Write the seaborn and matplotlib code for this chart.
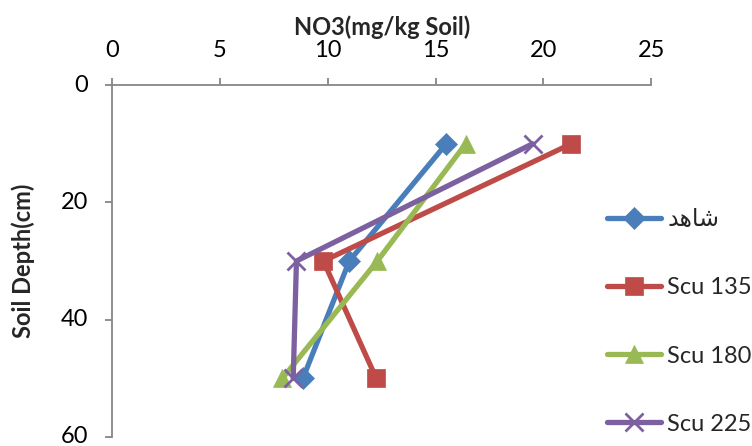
import matplotlib
matplotlib.use("Agg")
import matplotlib.pyplot as plt
import matplotlib.transforms as mtransforms
import seaborn as sns
import pandas as pd

# Soil depth (cm) of each sampling layer
depths = [10, 30, 50]

# Nitrate concentration per treatment (mg/kg soil)
series_names = ["شاهد", "Scu 135", "Scu 180", "Scu 225"]
control = [15.5, 11.0, 8.85]
scu_135 = [21.3, 9.8, 12.25]
scu_180 = [16.4, 12.3, 7.9]
scu_225 = [19.5, 8.55, 8.4]

x_ticks = [0, 5, 10, 15, 20, 25]
y_ticks = [0, 20, 40, 60]

colors = ["#4A7EBB", "#BE4B48", "#98B954", "#7D60A0"]
markers = ["D", "s", "^", "x"]
marker_sizes = [11, 13.5, 13.5, 13]


def shape_arabic(word):
    """Join Arabic letters into presentation forms, in visual order."""
    forms = {  # isolated, final, initial, medial
        "ش": ("\uFEB5", "\uFEB6", "\uFEB7", "\uFEB8"),
        "ا": ("\uFE8D", "\uFE8E", None, None),
        "ه": ("\uFEE9", "\uFEEA", "\uFEEB", "\uFEEC"),
        "د": ("\uFEA9", "\uFEAA", None, None),
    }
    if not any(c in forms for c in word):
        return word
    out = []
    n = len(word)
    for i, c in enumerate(word):
        f = forms[c]
        prev_joins = i > 0 and forms[word[i - 1]][2] is not None
        next_joins = i < n - 1 and f[2] is not None
        if prev_joins and next_joins:
            out.append(f[3])
        elif prev_joins:
            out.append(f[1])
        elif next_joins:
            out.append(f[2])
        else:
            out.append(f[0])
    return "".join(reversed(out))


frames = []
for name, vals in zip(series_names, [control, scu_135, scu_180, scu_225]):
    frames.append(pd.DataFrame({"series": name, "no3": vals, "depth": depths}))
df = pd.concat(frames, ignore_index=True)

sns.set_theme(style="white")
plt.rcParams["font.family"] = ["Lato", "DejaVu Sans"]

fig = plt.figure(figsize=(7.52, 4.46), dpi=100)
ax = fig.add_axes([0.149, 0.0202, 0.717, 0.789])

for name, color, mk, ms in zip(series_names, colors, markers, marker_sizes):
    sub = df[df["series"] == name]
    sns.lineplot(
        data=sub, x="no3", y="depth", orient="y", ax=ax,
        color=color, linewidth=3.8, marker=mk, markersize=ms,
        markeredgecolor=color, markeredgewidth=2.0 if mk == "x" else 0.5,
        label=shape_arabic(name),
    )

ax.set_xlim(0, 25)
ax.set_ylim(60, 0)
ax.set_xticks(x_ticks)
ax.set_yticks(y_ticks)
ax.xaxis.tick_top()
ax.xaxis.set_label_position("top")

for side in ["right", "bottom"]:
    ax.spines[side].set_visible(False)
for side in ["left", "top"]:
    ax.spines[side].set_color("#868686")
    ax.spines[side].set_linewidth(1.3)

ax.tick_params(axis="both", which="major", direction="out", length=5,
               width=1.3, color="#868686", labelsize=17, pad=12,
               labelcolor="black")
ax.tick_params(axis="x", top=True, bottom=False)
ax.tick_params(axis="y", left=True)

# nudge the depth labels up slightly so the bottom one stays inside the canvas
nudge = mtransforms.ScaledTranslation(0, 1.5 / 72, fig.dpi_scale_trans)
for lbl in ax.get_yticklabels():
    lbl.set_transform(lbl.get_transform() + nudge)

ax.set_xlabel("NO3(mg/kg Soil)", fontsize=17, fontweight="bold", labelpad=4)
ax.set_ylabel("Soil Depth(cm)", fontsize=17, fontweight="bold", labelpad=19)

leg = ax.legend(loc="center left", bbox_to_anchor=(0.918, 0.327), frameon=False,
                fontsize=17, labelspacing=2.0, handlelength=2.3,
                handletextpad=0.25, borderaxespad=0, borderpad=0)

fig.savefig("out.png", dpi=100)
